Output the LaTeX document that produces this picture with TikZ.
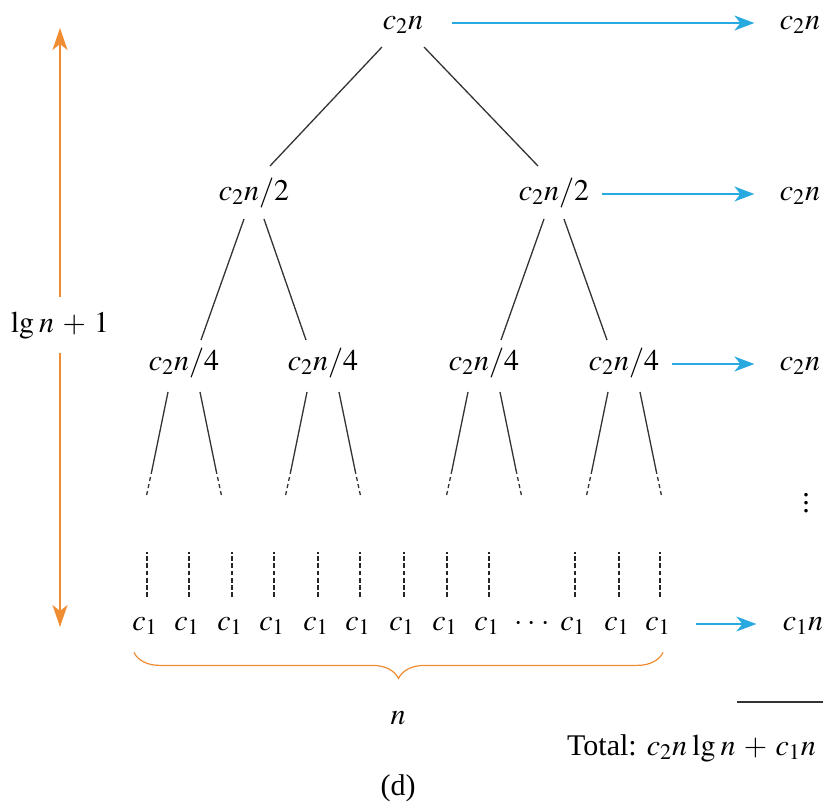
\documentclass[tikz,border=0pt]{standalone}
\usepackage{mathptmx}
\usepackage{fontspec}
\setmainfont{Liberation Serif}
\usepackage{tikz}
\tikzset{>=latex}
\usetikzlibrary{positioning,calc,decorations.pathreplacing,arrows.meta}
\definecolor{sumblue}{RGB}{40,170,225}
\definecolor{heightorange}{RGB}{240,140,50}
\medmuskip=5mu plus 2mu minus 2mu
\thinmuskip=3mu

\begin{document}
\begin{tikzpicture}[x=0.5pt,y=-0.5pt,
                    font=\fontsize{15}{18}\selectfont,
                    term/.style={inner sep=0pt,text height=10pt,text depth=4pt},
                    treeline/.style={line width=0.65pt,black!80},
                    cont/.style={line width=0.65pt,black!80,dash pattern=on 2pt off 1.6pt},
                    leafdash/.style={line width=0.65pt,black!85,dash pattern=on 2.4pt off 1.2pt},
                    sumarrow/.style={->,line width=0.8pt,sumblue,>={Stealth[length=10pt,width=7.5pt,inset=3pt]}},
                    heightarrow/.style={->,line width=0.8pt,heightorange,>={Stealth[length=11pt,width=7.5pt,inset=3pt]}},
                    bracestyle/.style={line width=0.6pt,heightorange,decorate,decoration={brace,mirror,amplitude=13pt}},
       ]
       \useasboundingbox (0,0) rectangle (827,804);
       % recursion tree
       \node[term] (root) at (403,23) {$c_2n$};
       \node[term] (l) at (254,194) {$c_2n/2$};
       \node[term] (r) at (554,194) {$c_2n/2$};
       \node[term] (ll) at (184,364) {$c_2n/4$};
       \node[term] (lr) at (323,364) {$c_2n/4$};
       \node[term] (rl) at (484,364) {$c_2n/4$};
       \node[term] (rr) at (624,364) {$c_2n/4$};
       \draw[treeline] ($(root)+(-21,24)$) -- ($(l)+(16,-28)$);
       \draw[treeline] ($(root)+(21,24)$) -- ($(r)+(-16,-28)$);
       \draw[treeline] ($(l)+(-10,25)$) -- ($(ll)+(17,-24)$);
       \draw[treeline] ($(l)+(10,25)$) -- ($(lr)+(-17,-24)$);
       \draw[treeline] ($(r)+(-10,25)$) -- ($(rl)+(17,-24)$);
       \draw[treeline] ($(r)+(10,25)$) -- ($(rr)+(-17,-24)$);
       % branches fading into the lower levels
       \draw[treeline] ($(ll)+(-16,28)$) -- ($(ll)+(-32,106)$) edge[cont] ($(ll)+(-38,134)$);
       \draw[treeline] ($(ll)+(16,28)$) -- ($(ll)+(32,106)$) edge[cont] ($(ll)+(38,134)$);
       \draw[treeline] ($(lr)+(-16,28)$) -- ($(lr)+(-32,106)$) edge[cont] ($(lr)+(-38,134)$);
       \draw[treeline] ($(lr)+(16,28)$) -- ($(lr)+(32,106)$) edge[cont] ($(lr)+(38,134)$);
       \draw[treeline] ($(rl)+(-16,28)$) -- ($(rl)+(-32,106)$) edge[cont] ($(rl)+(-38,134)$);
       \draw[treeline] ($(rl)+(16,28)$) -- ($(rl)+(32,106)$) edge[cont] ($(rl)+(38,134)$);
       \draw[treeline] ($(rr)+(-16,28)$) -- ($(rr)+(-32,106)$) edge[cont] ($(rr)+(-38,134)$);
       \draw[treeline] ($(rr)+(16,28)$) -- ($(rr)+(32,106)$) edge[cont] ($(rr)+(38,134)$);
       % leaves
       \node[term] (leaf1) at (145,624) {$c_1$};
       \node[term] (leaf2) at (187,624) {$c_1$};
       \node[term] (leaf3) at (230,624) {$c_1$};
       \node[term] (leaf4) at (272,624) {$c_1$};
       \node[term] (leaf5) at (316,624) {$c_1$};
       \node[term] (leaf6) at (358,624) {$c_1$};
       \node[term] (leaf7) at (402,624) {$c_1$};
       \node[term] (leaf8) at (445,624) {$c_1$};
       \node[term] (leaf9) at (487,624) {$c_1$};
       \node[term] (leafdots) at (532,624) {$\cdots$};
       \node[term] (leaf10) at (573,624) {$c_1$};
       \node[term] (leaf11) at (617,624) {$c_1$};
       \node[term] (leaf12) at (658,624) {$c_1$};
       \draw[leafdash]
            ($(leaf1)+(2,-27)$) -- ++(0,-45)
            ($(leaf2)+(2,-27)$) -- ++(0,-45)
            ($(leaf3)+(2,-27)$) -- ++(0,-45)
            ($(leaf4)+(2,-27)$) -- ++(0,-45)
            ($(leaf5)+(2,-27)$) -- ++(0,-45)
            ($(leaf6)+(2,-27)$) -- ++(0,-45)
            ($(leaf7)+(2,-27)$) -- ++(0,-45)
            ($(leaf8)+(2,-27)$) -- ++(0,-45)
            ($(leaf9)+(2,-27)$) -- ++(0,-45)
            ($(leaf10)+(2,-27)$) -- ++(0,-45)
            ($(leaf11)+(2,-27)$) -- ++(0,-45)
            ($(leaf12)+(2,-27)$) -- ++(0,-45)
            ;
       \draw[bracestyle] ($(leaf1.south west)+(2,14)$) -- ($(leaf12.south east)+(-8,14)$);
       \node (size) at (398,718) {$n$};
       % cost per level
       \node[term] (s0) at (800,23) {$c_2n$};
       \node[term] (s1) at (800,194) {$c_2n$};
       \node[term] (s2) at (800,364) {$c_2n$};
       \node[inner sep=0pt] (vd) at (806,497) {$\vdots$};
       \node[term] (s3) at (803,624) {$c_1n$};
       \draw[sumarrow,shorten <=14pt,shorten >=12.5pt] (root) -- (s0);
       \draw[sumarrow,shorten <=6pt,shorten >=12.5pt] (r) -- (s1);
       \draw[sumarrow,shorten <=6pt,shorten >=12.5pt] (rr) -- (s2);
       \draw[sumarrow,shorten <=12.5pt,shorten >=13pt] (leaf12) -- (s3);
       \node[anchor=east] (total) at (823,748) {Total: $c_2n\lg n+c_1n$};
       \draw[treeline] ($(total.east)+(0,-46)$) -- ++(-86,0);
       % tree height
       \coordinate (htop) at (60,28);
       \coordinate (hbot) at (60,627);
       \node[inner sep=7pt] (hlabel) at (60,325) {$\lg n+1$};
       \draw[heightarrow] (hlabel) -- (htop);
       \draw[heightarrow] (hlabel) -- (hbot);
       \node (panel) at (398,788) {(d)};
    \end{tikzpicture}
\end{document}
